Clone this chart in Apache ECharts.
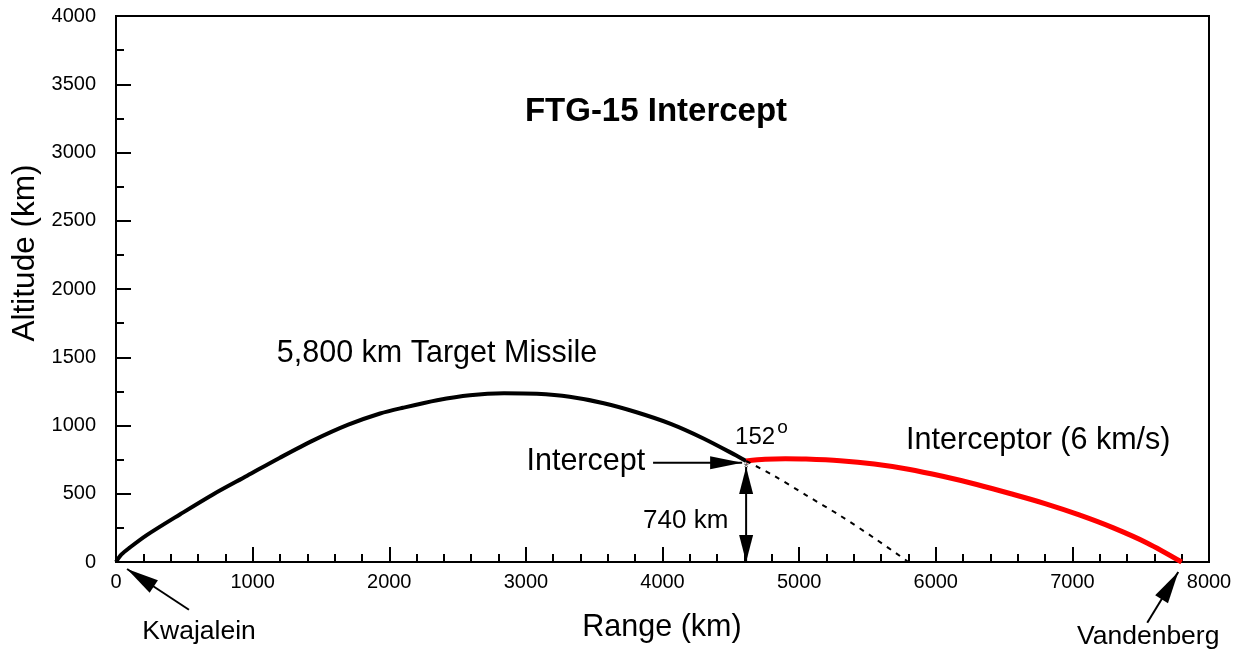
<!DOCTYPE html>
<html>
<head>
<meta charset="utf-8">
<script src="https://cdn.jsdelivr.net/npm/echarts@6/dist/echarts.min.js"></script>
<style>
  html, body { margin: 0; padding: 0; background: #fff; }
  #box { width: 1236px; height: 652px; }
</style>
</head>
<body>
<div id="box"></div>
<script>
// target missile trajectory (km)
var targetRange = [0, 40, 100, 225, 470, 710, 960, 1200, 1444, 1700, 1933, 2100, 2350, 2590, 2840, 3080, 3320, 3570, 3810, 4060, 4300, 4540, 4612];
var targetAlt   = [0, 55, 105, 197, 350, 495, 632, 764, 891, 1006, 1088, 1130, 1185, 1222, 1236, 1232, 1210, 1163, 1097, 1012, 905, 780, 740];

// interceptor trajectory (km)
var interceptorRange = [4612, 4750, 4900, 5050, 5300, 5550, 5800, 6050, 6300, 6550, 6800, 7050, 7300, 7550, 7800];
var interceptorAlt   = [740, 752, 756, 754, 742, 718, 680, 628, 568, 500, 428, 345, 250, 138, 0];

// remaining target path after intercept (dashed)
var fallRange = [4612, 4811, 5050, 5300, 5550, 5800];
var fallAlt   = [740, 635, 490, 340, 175, 0];

var interceptPoint = [4612, 740];

function pairs(xs, ys) {
    return xs.map(function (x, i) { return [x, ys[i]]; });
}

var FONT = '"Liberation Sans", Arial, sans-serif';

var myChart = echarts.init(document.getElementById('box'));
var option = {
    animation: false,
    backgroundColor: '#fff',
    grid: {
        left: 116, right: 27, top: 16, bottom: 90,
        show: true, borderColor: '#000', borderWidth: 2
    },
    xAxis: {
        type: 'value', min: 0, max: 8000, interval: 1000,
        axisLine: { onZero: false, lineStyle: { color: '#000', width: 2 } },
        axisTick: { inside: true, length: 15, lineStyle: { color: '#000', width: 2 } },
        minorTick: { show: true, splitNumber: 5, length: 8, lineStyle: { color: '#000', width: 2 } },
        splitLine: { show: false },
        axisLabel: {
            color: '#000', fontSize: 20, fontFamily: FONT, margin: 10,
            formatter: function (v) { return String(v); }
        }
    },
    yAxis: {
        type: 'value', min: 0, max: 4000, interval: 500,
        axisLine: { show: true, onZero: false, lineStyle: { color: '#000', width: 2 } },
        axisTick: { show: true, inside: true, length: 15, lineStyle: { color: '#000', width: 2 } },
        minorTick: { show: true, splitNumber: 2, length: 8, lineStyle: { color: '#000', width: 2 } },
        splitLine: { show: false },
        axisLabel: {
            color: '#000', fontSize: 20, fontFamily: FONT, margin: 20,
            formatter: function (v) { return String(v); }
        }
    },
    series: [
        {
            name: 'Target', type: 'line', data: pairs(targetRange, targetAlt),
            showSymbol: false, smooth: 0.3,
            lineStyle: { color: '#000', width: 4 }
        },
        {
            name: 'Interceptor', type: 'line', data: pairs(interceptorRange, interceptorAlt),
            showSymbol: false, smooth: 0.3,
            lineStyle: { color: '#ff0000', width: 5 }
        },
        {
            name: 'Fall', type: 'line', data: pairs(fallRange, fallAlt),
            showSymbol: false, smooth: 0.3,
            lineStyle: { color: '#000', width: 2, type: [5, 6] }
        }
    ]
};
myChart.setOption(option);

// annotations placed in data coordinates
var labels = [
    { text: '5,800 km Target Missile', at: [1177, 1529], align: 'left', size: 30.5 },
    { text: 'Intercept', at: [3873, 737], align: 'right', size: 30.5 },
    { text: '152', at: [4531, 912], align: 'left', size: 24 },
    { text: 'o', at: [4839, 985], align: 'left', size: 19 },
    { text: 'Interceptor (6 km/s)', at: [5783, 891], align: 'left', size: 30.5 },
    { text: '740 km', at: [4482, 299], align: 'right', size: 26 },
    { text: 'Kwajalein', at: [608, -509], align: 'center', size: 26.5 },
    { text: 'Vandenberg', at: [7555, -544], align: 'center', size: 26.5 }
];

var arrows = [
    { from: [3931, 728], to: [4583, 728], both: false, len: 32, w: 13 },
    { from: [4612, 696], to: [4612, 0], both: true, len: 27, w: 14 },
    { from: [534, -350], to: [81, -51], both: false, len: 32, w: 15 },
    { from: [7548, -445], to: [7775, -73], both: false, len: 32, w: 15 }
];

function px(p) { return myChart.convertToPixel({ gridIndex: 0 }, p); }

function head(tip, tail, len, w) {
    var dx = tip[0] - tail[0], dy = tip[1] - tail[1];
    var d = Math.sqrt(dx * dx + dy * dy);
    var ux = dx / d, uy = dy / d;
    var bx = tip[0] - ux * len, by = tip[1] - uy * len;
    var nx = -uy * w / 2, ny = ux * w / 2;
    return {
        type: 'polygon', z: 100, silent: true,
        shape: { points: [tip, [bx + nx, by + ny], [bx - nx, by - ny]] },
        style: { fill: '#000' }
    };
}

var g = [];
labels.forEach(function (l) {
    var p = px(l.at);
    g.push({
        type: 'text', x: p[0], y: p[1], z: 100, silent: true,
        style: { text: l.text, font: 'normal ' + l.size + 'px ' + FONT, fill: '#000', align: l.align, verticalAlign: 'middle' }
    });
});
arrows.forEach(function (a) {
    var p1 = px(a.from), p2 = px(a.to);
    g.push({
        type: 'line', z: 100, silent: true,
        shape: { x1: p1[0], y1: p1[1], x2: p2[0], y2: p2[1] },
        style: { stroke: '#000', lineWidth: 2 }
    });
    g.push(head(p2, p1, a.len, a.w));
    if (a.both) g.push(head(p1, p2, a.len, a.w));
});

// small star marker at intercept point
var ip = px(interceptPoint);
g.push({
    type: 'text', x: ip[0], y: ip[1] + 7, z: 101, silent: true,
    style: { text: '*', font: 'normal 14px ' + FONT, fill: '#555', align: 'center', verticalAlign: 'middle' }
});

// title and axis names
g.push({
    type: 'text', x: 656, y: 112, z: 100, silent: true,
    style: { text: 'FTG-15 Intercept', font: 'bold 33px ' + FONT, fill: '#000', align: 'center', verticalAlign: 'middle' }
});
g.push({
    type: 'text', x: 662, y: 628, z: 100, silent: true,
    style: { text: 'Range (km)', font: 'normal 30.5px ' + FONT, fill: '#000', align: 'center', verticalAlign: 'middle' }
});
g.push({
    type: 'text', x: 25, y: 253, rotation: Math.PI / 2, z: 100, silent: true,
    style: { text: 'Altitude (km)', font: 'normal 31.5px ' + FONT, fill: '#000', align: 'center', verticalAlign: 'middle' }
});

myChart.setOption({ graphic: g });
</script>
</body>
</html>
